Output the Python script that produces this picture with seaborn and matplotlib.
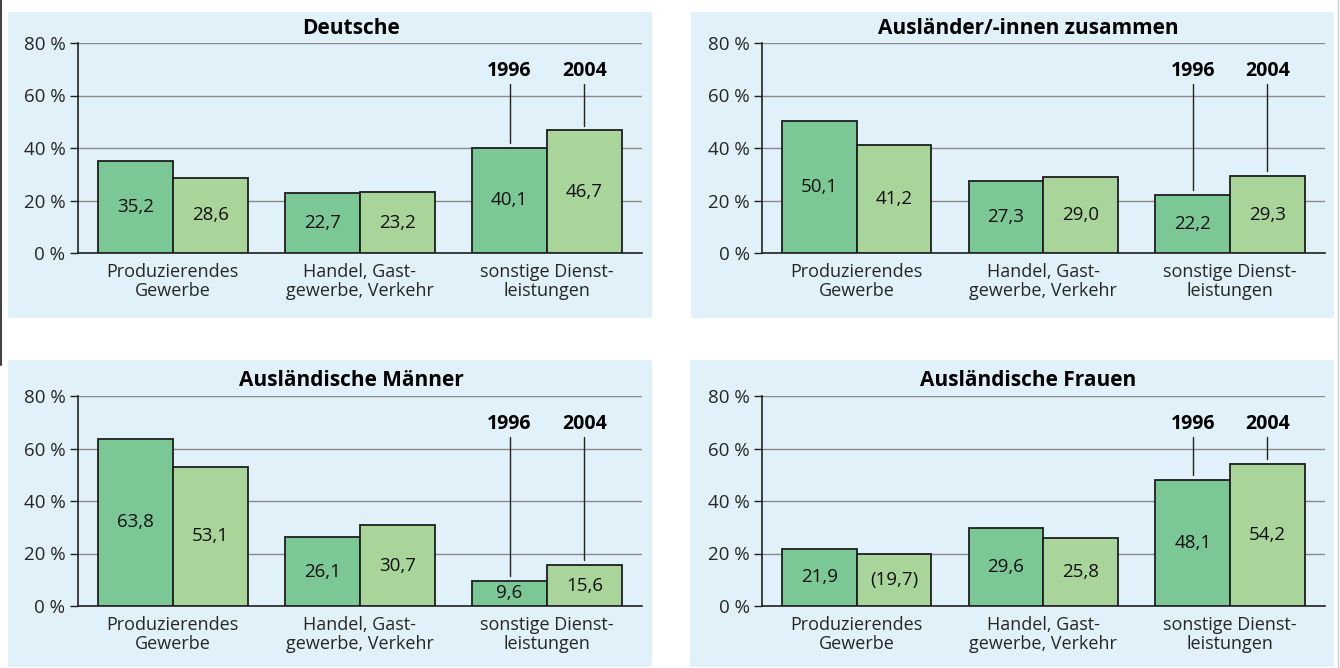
import pandas as pd
import seaborn as sns
import matplotlib.pyplot as plt
from matplotlib.patches import Rectangle
from matplotlib.lines import Line2D

# data (percent)
sectors = ["Produzierendes\nGewerbe", "Handel, Gast-\ngewerbe, Verkehr", "sonstige Dienst-\nleistungen"]
years = ["1996", "2004"]
titles = ["Deutsche", "Ausländer/-innen zusammen", "Ausländische Männer", "Ausländische Frauen"]

deutsche_1996 = [35.2, 22.7, 40.1]
deutsche_2004 = [28.6, 23.2, 46.7]
auslaender_1996 = [50.1, 27.3, 22.2]
auslaender_2004 = [41.2, 29.0, 29.3]
maenner_1996 = [63.8, 26.1, 9.6]
maenner_2004 = [53.1, 30.7, 15.6]
frauen_1996 = [21.9, 29.6, 48.1]
frauen_2004 = [19.7, 25.8, 54.2]

labels_1996 = [["35,2", "22,7", "40,1"], ["50,1", "27,3", "22,2"],
               ["63,8", "26,1", "9,6"], ["21,9", "29,6", "48,1"]]
labels_2004 = [["28,6", "23,2", "46,7"], ["41,2", "29,0", "29,3"],
               ["53,1", "30,7", "15,6"], ["(19,7)", "25,8", "54,2"]]

yticks = [0, 20, 40, 60, 80]
ytick_labels = ["0 %", "20 %", "40 %", "60 %", "80 %"]

panels = [(deutsche_1996, deutsche_2004), (auslaender_1996, auslaender_2004),
          (maenner_1996, maenner_2004), (frauen_1996, frauen_2004)]

c1996 = "#7bc795"
c2004 = "#aad59a"
bg = "#e0f1f9"

sns.set_style("white")
plt.rcParams["font.family"] = ["Open Sans", "DejaVu Sans"]

W, H = 1340, 668
fig = plt.figure(figsize=(13.4, 6.68), dpi=100)

def fx(px):
    return px / W

def fy(py):
    return 1 - py / H

# light blue panel backgrounds (pixel boxes, top-origin)
for x0, y0, x1, y1 in [(8, 12, 652, 318), (691, 12, 1334, 318),
                       (8, 360, 652, 667), (690, 360, 1334, 667)]:
    fig.patches.append(Rectangle((fx(x0), fy(y1)), fx(x1 - x0), (y1 - y0) / H,
                                 transform=fig.transFigure, facecolor=bg,
                                 edgecolor="none", zorder=-10))
fig.lines.append(Line2D([fx(1), fx(1)], [1, fy(365)], transform=fig.transFigure,
                        color="#444444", lw=1.5, zorder=-5))
fig.lines.append(Line2D([fx(1337.5), fx(1337.5)], [1, 0], transform=fig.transFigure,
                        color="#cccccc", lw=1, zorder=-5))

axes_px = [(78, 253, 564), (762, 253, 563), (78, 606, 564), (762, 606, 563)]
title_x = [351, 1028, 351, 1028]

for k, (v96, v04) in enumerate(panels):
    left, bottom, width = axes_px[k]
    ax = fig.add_axes([fx(left), fy(bottom), fx(width), 210 / H])
    ax.patch.set_alpha(0)
    df = pd.DataFrame({
        "sector": sectors * 2,
        "year": [years[0]] * 3 + [years[1]] * 3,
        "value": v96 + v04,
    })
    sns.barplot(data=df, x="sector", y="value", hue="year", order=sectors,
                hue_order=years, palette=[c1996, c2004], saturation=1,
                edgecolor="#1e1e1e", linewidth=1.3, legend=False, ax=ax, zorder=3)

    # value labels in the middle of each bar
    for cont, labs in zip(ax.containers, [labels_1996[k], labels_2004[k]]):
        for bar, lab in zip(cont, labs):
            ax.text(bar.get_x() + bar.get_width() / 2, bar.get_height() / 2, lab,
                    ha="center", va="center", fontsize=13.5, color="#111111", zorder=5)

    # year labels with leader lines over the third group
    for cont, yr in zip(ax.containers, years):
        bar = cont[2]
        xc = bar.get_x() + bar.get_width() / 2
        ax.text(xc, 69.3, yr, ha="center", va="center", fontsize=14,
                fontweight="bold", color="black", zorder=5)
        ax.plot([xc, xc], [64.4, bar.get_height() + 1.8], color="#222222", lw=1, zorder=4)

    ax.set_ylim(0, 80)
    ax.set_xlim(-0.506, 2.508)
    ax.set_yticks(yticks)
    ax.set_yticklabels(ytick_labels, fontsize=13.5)
    ax.set_xticks(range(3))
    ax.set_xticklabels(sectors, fontsize=13, linespacing=1.1)
    ax.tick_params(axis="y", length=6, width=1, color="#222222", pad=3, left=True)
    ax.tick_params(axis="x", length=0, pad=7)
    ax.set_xlabel("")
    ax.set_ylabel("")
    ax.yaxis.grid(True, color="#8a8a8a", lw=1)
    ax.set_axisbelow(True)
    for s in ["top", "right"]:
        ax.spines[s].set_visible(False)
    for s in ["left", "bottom"]:
        ax.spines[s].set_color("#222222")
        ax.spines[s].set_linewidth(1.2)

    fig.text(fx(title_x[k]), fy(bottom - 225), titles[k], ha="center", va="center",
             fontsize=15, fontweight="bold", color="black")

fig.savefig("out.png", dpi=100, facecolor="white")
